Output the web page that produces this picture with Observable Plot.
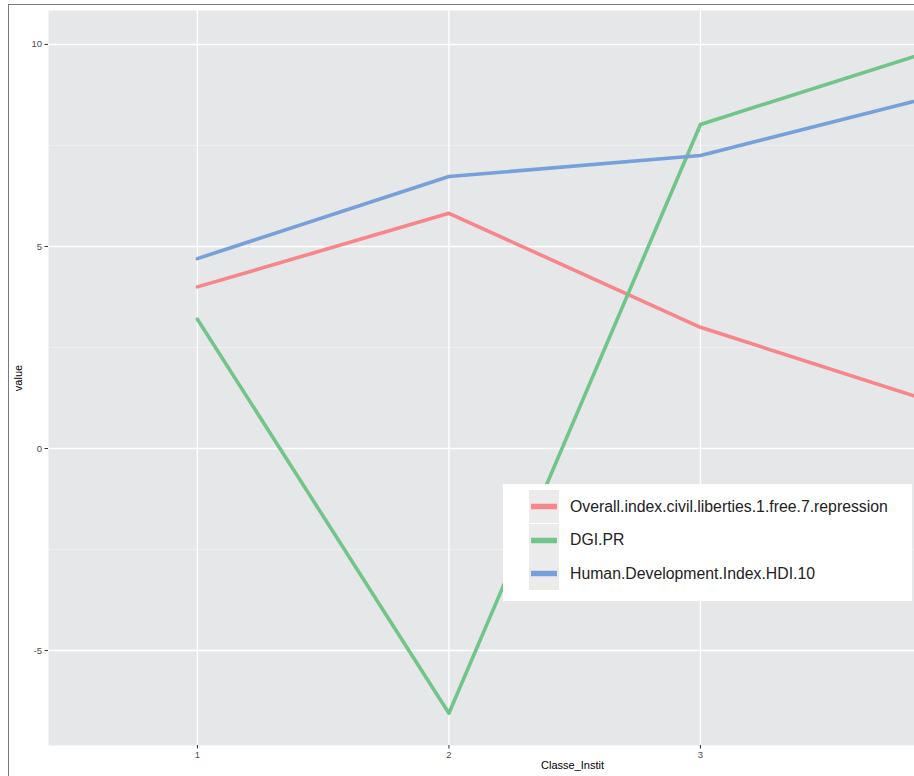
<!DOCTYPE html>
<html>
<head>
<meta charset="utf-8">
<script src="https://cdn.jsdelivr.net/npm/d3@7"></script>
<script src="https://cdn.jsdelivr.net/npm/@observablehq/plot@0.6"></script>
<style>
  html, body { margin: 0; padding: 0; background: #fff; overflow: hidden; }
  #wrap { position: relative; width: 914px; height: 776px; font-family: "Liberation Sans", Arial, sans-serif; }
  #border { position: absolute; left: 8px; top: 4px; right: -10px; bottom: -10px; border-top: 1.5px solid #7a7a7a; border-left: 1.5px solid #7a7a7a; pointer-events: none; }
  .title { position: absolute; font-size: 11px; color: #000; }
  #legend { position: absolute; left: 503px; top: 484px; width: 409px; height: 117px; background: #fff; }
  .row { position: absolute; left: 26px; height: 33px; display: flex; align-items: center; }
  .row span { margin-left: 11px; font-size: 15.8px; color: #222; letter-spacing: 0px; }
</style>
</head>
<body>
<div id="wrap">
  <div id="chart"></div>
  <div class="title" style="left:541px; top:759px;">Classe_Instit</div>
  <div class="title" style="left:4px; top:378px; transform: translate(0,-50%) rotate(-90deg); transform-origin: center; width:28px; text-align:center;">value</div>
  <div id="legend"></div>
  <div id="border"></div>
</div>
<script>
const classes = [1, 2, 3, 4];
const seriesNames = [
  "Overall.index.civil.liberties.1.free.7.repression",
  "DGI.PR",
  "Human.Development.Index.HDI.10"
];
const civilLiberties = [4.0, 5.82, 3.0, 1.0];
const dgiPR = [3.2, -6.55, 8.02, 10.0];
const hdi = [4.7, 6.73, 7.25, 8.83];
const seriesColors = ["#f7868a", "#72c589", "#76a0da"];
const yTicks = [-5, 0, 5, 10];
const yMinor = [-2.5, 2.5, 7.5];
const xTicks = [1, 2, 3];

const seriesValues = [civilLiberties, dgiPR, hdi];
const data = [];
seriesNames.forEach((name, i) => {
  classes.forEach((c, j) => data.push({ Classe_Instit: c, value: seriesValues[i][j], variable: name }));
});

const chart = Plot.plot({
  width: 914,
  height: 776,
  marginLeft: 48,
  marginRight: 0,
  marginTop: 10,
  marginBottom: 31,
  style: { fontFamily: "Liberation Sans, Arial, sans-serif", background: "transparent" },
  x: { domain: [0.408, 3.851] },
  y: { domain: [-7.35, 10.84] },
  color: { domain: seriesNames, range: seriesColors },
  marks: [
    Plot.frame({ fill: "#e6e7e9", stroke: null }),
    Plot.ruleY(yMinor, { stroke: "#f3f3f4", strokeWidth: 0.8 }),
    Plot.ruleY(yTicks, { stroke: "#ffffff", strokeWidth: 1.4 }),
    Plot.ruleX(xTicks, { stroke: "#ffffff", strokeWidth: 1.4 }),
    Plot.line(data, { x: "Classe_Instit", y: "value", z: "variable", stroke: "variable", strokeWidth: 3.6, clip: true }),
    Plot.axisY(yTicks, { tickSize: 3.5, tickPadding: 3, fontSize: 9.5, color: "#4d4d4d", stroke: "#333", label: null, tickFormat: d => String(d) }),
    Plot.axisX(xTicks, { tickSize: 3.5, tickPadding: 2, fontSize: 9.5, color: "#4d4d4d", stroke: "#333", label: null, tickFormat: d => String(d) })
  ]
});
document.getElementById("chart").appendChild(chart);

const legend = document.getElementById("legend");
seriesNames.forEach((name, i) => {
  const row = document.createElement("div");
  row.className = "row";
  row.style.top = (6 + i * 33.5) + "px";
  row.innerHTML = `<svg width="30" height="33"><rect x="0" y="0" width="30" height="33" fill="#ebebeb"/><line x1="2" x2="28" y1="16.5" y2="16.5" stroke="${seriesColors[i]}" stroke-width="5.5"/></svg><span>${name}</span>`;
  legend.appendChild(row);
});
</script>
</body>
</html>
